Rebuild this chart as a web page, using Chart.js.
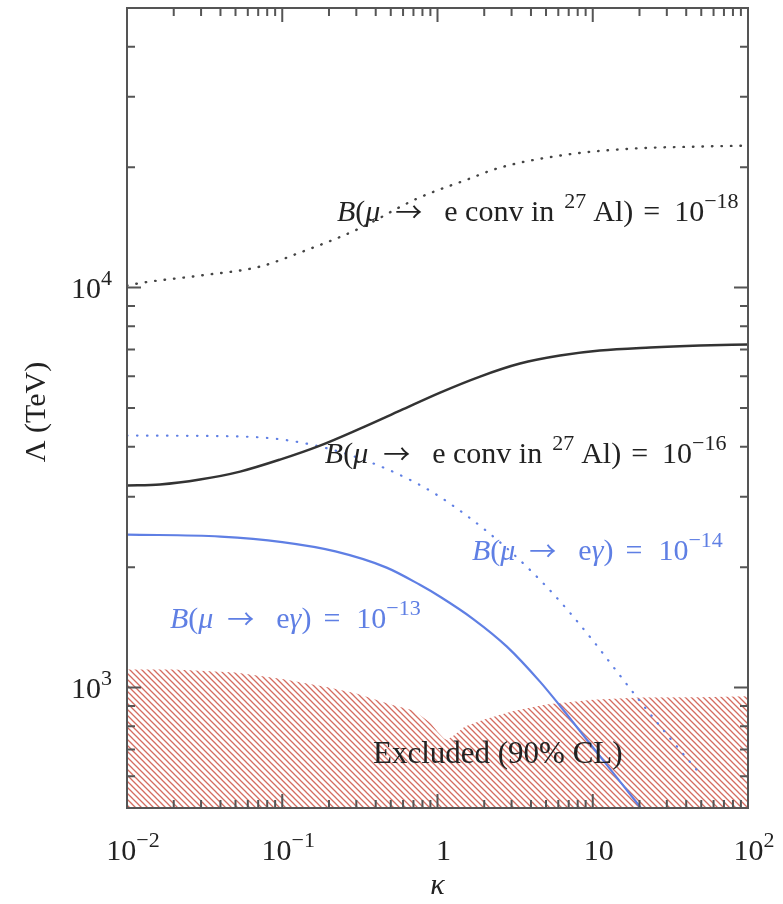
<!DOCTYPE html>
<html><head><meta charset="utf-8">
<script src="https://cdn.jsdelivr.net/npm/chart.js@4/dist/chart.umd.min.js"></script>
<style>html,body{margin:0;padding:0;background:#fff}#wrap{width:783px;height:904px;position:relative}</style>
</head><body><div id="wrap"><canvas id="c" width="783" height="904"></canvas></div>
<script>
// ---------- data ----------
const kappaAl18 = [0.01, 0.0127, 0.0295, 0.072, 0.13, 0.303, 0.738, 1.55, 2.53, 6.82, 18.2, 49.1, 100];
const convAl18 = [10116, 10292, 10715, 11288, 12232, 13964, 16691, 18621, 19953, 21503, 22260, 22520, 22646];
const kappaAl16 = [0.01, 0.0163, 0.0295, 0.0535, 0.0967, 0.175, 0.317, 0.574, 1.04, 1.88, 3.4, 6.15, 11.1, 23.4, 49.1, 100];
const convAl16 = [3199, 3218, 3311, 3467, 3715, 4027, 4441, 4925, 5464, 5992, 6457, 6761, 6958, 7079, 7161, 7211];
const kappaMEG14 = [0.01, 0.05, 0.1, 0.2, 0.4, 0.7, 1, 1.5, 2, 3, 5, 7, 10, 15, 20, 30, 47];
const meg14 = [4266, 4246, 4169, 3954, 3614, 3273, 3026, 2713, 2489, 2177, 1793, 1551, 1312, 1071, 928, 764, 621];
const kappaMEG13 = [0.01, 0.04, 0.1, 0.22, 0.47, 0.77, 1.04, 1.7, 2.8, 4.6, 6.2, 9.6, 15, 20.2];
const meg13 = [2413, 2385, 2310, 2190, 1995, 1807, 1687, 1484, 1266, 1032, 897, 724, 582, 503];
const kappaExcl = [0.01, 0.02, 0.05, 0.1, 0.2, 0.3, 0.5, 0.7, 0.9, 1, 1.1, 1.15, 1.3, 1.5, 2, 3, 5, 10, 20, 50, 100];
const excluded = [1109, 1109, 1090, 1050, 1000, 966, 907, 876, 817, 776, 746, 740, 763, 799, 832, 871, 907, 933, 944, 946, 951];
const xTickValues = [0.01, 0.1, 1, 10, 100];
const xTickLabels = [['10', '\u22122'], ['10', '\u22121'], ['1', ''], ['10', ''], ['10', '2']];
const yTickValues = [1000, 10000];
const yTickLabels = [['10', '3'], ['10', '4']];
const xTitle = '\u03BA';
const yTitle = '\u039B (TeV)';

// ---------- helpers ----------
const pts = (xs, ys) => xs.map((x, i) => ({x: x, y: ys[i]}));
const SERIF = '"Liberation Serif", "DejaVu Serif", serif';
const ARROWFONT = '"Noto Sans CJK JP", "DejaVu Serif", serif';
const BLUE = '#5f7fe4';
const BLACK = '#333333';
const MAIN = 30, SUP = 22, RAISE = 13;

const ctx0 = document.getElementById('c').getContext('2d');
function makeHatch() {
  const s = 6, c = document.createElement('canvas');
  c.width = s; c.height = s;
  const g = c.getContext('2d');
  g.strokeStyle = 'rgb(212,108,96)';
  g.lineWidth = 1.3;
  g.beginPath();
  g.moveTo(-1, -1); g.lineTo(s + 1, s + 1);
  g.moveTo(-1, s - 1); g.lineTo(1, s + 1);
  g.moveTo(s - 1, -1); g.lineTo(s + 1, 1);
  g.stroke();
  return ctx0.createPattern(c, 'repeat');
}

function partFont(p) {
  if (p.a) return '27px ' + ARROWFONT;
  return (p.i ? 'italic ' : '') + (p.s ? SUP : (p.z || MAIN)) + 'px ' + SERIF;
}
// rich text: parts {t, i (italic), s (superscript), a (arrow), z (size), g (gap px)}
function drawRich(ctx, parts, x, y, color) {
  ctx.fillStyle = color;
  ctx.textBaseline = 'alphabetic';
  ctx.textAlign = 'left';
  let cx = x;
  for (const p of parts) {
    if (p.g) { cx += p.g; continue; }
    ctx.font = partFont(p);
    ctx.fillText(p.t, cx, p.s ? y - RAISE : (p.a ? y + 1 : y));
    cx += ctx.measureText(p.t).width;
  }
}

const convParts = (exp) => [
  {t: 'B', i: 1}, {t: '('}, {t: '\u03BC', i: 1}, {g: 15}, {t: '\u2192', a: 1}, {g: 22},
  {t: 'e conv in'}, {g: 10}, {t: '27', s: 1}, {g: 7}, {t: 'Al)'}, {g: 10}, {t: '='}, {g: 14}, {t: '10'}, {t: '\u2212' + exp, s: 1}
];
const megParts = (exp) => [
  {t: 'B', i: 1}, {t: '('}, {t: '\u03BC', i: 1}, {g: 14}, {t: '\u2192', a: 1}, {g: 22},
  {t: 'e'}, {t: '\u03B3', i: 1}, {t: ')'}, {g: 12}, {t: '='}, {g: 16}, {t: '10'}, {t: '\u2212' + exp, s: 1}
];
const ANNOT = [
  {k: 0.225, L: 14650, parts: convParts('18'), color: '#222'},
  {k: 0.188, L: 3648, parts: convParts('16'), color: '#222'},
  {k: 1.667, L: 2089, parts: megParts('14'), color: BLUE},
  {k: 0.0189, L: 1413, parts: megParts('13'), color: BLUE},
  {k: 0.384, L: 648, parts: [{t: 'Excluded (90% CL)', z: 31}], color: '#222'}
];

function drawSupLabel(ctx, base, sup, x, y, align) {
  ctx.textBaseline = 'alphabetic';
  ctx.textAlign = 'left';
  ctx.font = MAIN + 'px ' + SERIF;
  const wb = ctx.measureText(base).width;
  ctx.font = SUP + 'px ' + SERIF;
  const ws = sup ? ctx.measureText(sup).width : 0;
  const tot = wb + ws;
  const sx = align === 'right' ? x - tot : x - tot / 2;
  ctx.font = MAIN + 'px ' + SERIF;
  ctx.fillText(base, sx, y);
  if (sup) { ctx.font = SUP + 'px ' + SERIF; ctx.fillText(sup, sx + wb, y - RAISE); }
}

const decor = {
  id: 'decor',
  afterDatasetsDraw(chart) {
    const ctx = chart.ctx, xs = chart.scales.x, ys = chart.scales.y, a = chart.chartArea;
    ctx.save();
    for (const lab of ANNOT) drawRich(ctx, lab.parts, xs.getPixelForValue(lab.k), ys.getPixelForValue(lab.L), lab.color);
    // frame
    ctx.strokeStyle = '#555'; ctx.lineWidth = 2;
    ctx.strokeRect(a.left, a.top, a.right - a.left, a.bottom - a.top);
    // ticks (inward, all four sides)
    ctx.beginPath();
    for (let d = -2; d <= 2; d++) for (let m = 1; m <= 9; m++) {
      const v = m * Math.pow(10, d);
      if (v < xs.min * 0.999 || v > xs.max * 1.001) continue;
      const len = m === 1 ? 14 : 8, px = xs.getPixelForValue(v);
      ctx.moveTo(px, a.bottom); ctx.lineTo(px, a.bottom - len);
      ctx.moveTo(px, a.top); ctx.lineTo(px, a.top + len);
    }
    for (let d = 2; d <= 4; d++) for (let m = 1; m <= 9; m++) {
      const v = m * Math.pow(10, d);
      if (v < ys.min * 0.999 || v > ys.max * 1.001) continue;
      const len = m === 1 ? 14 : 8, py = ys.getPixelForValue(v);
      ctx.moveTo(a.left, py); ctx.lineTo(a.left + len, py);
      ctx.moveTo(a.right, py); ctx.lineTo(a.right - len, py);
    }
    ctx.stroke();
    // tick labels
    ctx.fillStyle = '#222';
    xTickValues.forEach((v, i) => drawSupLabel(ctx, xTickLabels[i][0], xTickLabels[i][1], xs.getPixelForValue(v) + 6, a.bottom + 52, 'center'));
    yTickValues.forEach((v, i) => drawSupLabel(ctx, yTickLabels[i][0], yTickLabels[i][1], a.left - 15, ys.getPixelForValue(v) + 10, 'right'));
    // axis titles
    ctx.font = 'italic ' + MAIN + 'px ' + SERIF; ctx.textAlign = 'center'; ctx.textBaseline = 'middle';
    ctx.fillText(xTitle, (a.left + a.right) / 2, a.bottom + 78);
    ctx.save();
    ctx.translate(37, (a.top + a.bottom) / 2 + 4);
    ctx.rotate(-Math.PI / 2);
    ctx.font = MAIN + 'px ' + SERIF;
    ctx.fillText(yTitle, 0, 0);
    ctx.restore();
    ctx.restore();
  }
};

const lineDs = (label, data, color, width, dash) => ({
  label, data, borderColor: color, borderWidth: width, borderDash: dash || [],
  borderCapStyle: 'round', pointRadius: 0, fill: false, cubicInterpolationMode: 'monotone', clip: 0
});

new Chart(ctx0, {
  type: 'line',
  data: {
    datasets: [
      lineDs('B(\u03BC\u2192e conv in 27Al) = 1e-18', pts(kappaAl18, convAl18), '#444', 2.4, [0.5, 9]),
      lineDs('B(\u03BC\u2192e conv in 27Al) = 1e-16', pts(kappaAl16, convAl16), BLACK, 2.5),
      lineDs('B(\u03BC\u2192e\u03B3) = 1e-14', pts(kappaMEG14, meg14), BLUE, 2.2, [0.5, 9.5]),
      lineDs('B(\u03BC\u2192e\u03B3) = 1e-13', pts(kappaMEG13, meg13), BLUE, 2.2),
      {label: 'Excluded (90% CL)', data: pts(kappaExcl, excluded), borderWidth: 0, borderColor: 'rgba(0,0,0,0)',
       backgroundColor: makeHatch(), fill: 'start', pointRadius: 0, tension: 0, clip: 0}
    ]
  },
  options: {
    responsive: false, animation: false, devicePixelRatio: 1,
    layout: {padding: {left: 127, right: 35, top: 8, bottom: 96}},
    plugins: {legend: {display: false}, tooltip: {enabled: false}, title: {display: false}},
    scales: {
      x: {type: 'logarithmic', min: 0.01, max: 100, grid: {display: false, drawTicks: false}, border: {display: false}, ticks: {display: false}},
      y: {type: 'logarithmic', min: 500, max: 50000, grid: {display: false, drawTicks: false}, border: {display: false}, ticks: {display: false}}
    }
  },
  plugins: [decor]
});
</script></body></html>
